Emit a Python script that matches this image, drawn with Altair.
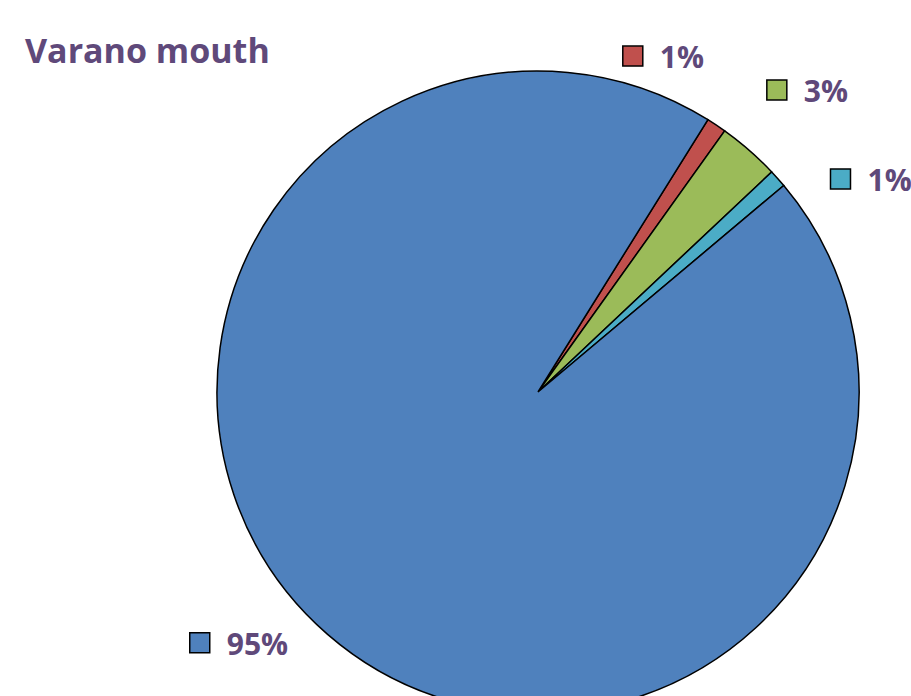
import math
import altair as alt
import pandas as pd

# ---- data ----
categories = ["A", "B", "C", "D"]
values = [1.0, 3.1, 0.9, 95.0]
colors = ["#C0504D", "#9BBB59", "#4BACC6", "#4F81BD"]
title_text = "Varano mouth"

# ---- layout ----
W, H = 911, 696
CX, CY = 538, 392
R = 321
START_DEG = 31.96
TEXT_COLOR = "#5F497A"
FONT = "Open Sans"
# label placement nudges (degrees relative to slice mid-angle, radial distance)
label_nudge_deg = [-18.0, -2.8, 6.5, 12.5]
label_radius = [349, 385, 370, 421]

df = pd.DataFrame({"cat": categories, "value": values, "idx": range(len(values))})
total = sum(values)
cum = 0.0
lx, ly, lab = [], [], []
for i, v in enumerate(values):
    mid = START_DEG + (cum + v / 2) / total * 360.0
    cum += v
    a = math.radians(mid + label_nudge_deg[i])
    lx.append(CX + label_radius[i] * math.sin(a))
    ly.append(CY - label_radius[i] * math.cos(a))
    lab.append(f"{round(v / total * 100):.0f}%")
df["lx"] = lx
df["ly"] = ly
df["label"] = lab

start = math.radians(START_DEG)
color_scale = alt.Scale(domain=categories, range=colors)

pie = alt.Chart(df).mark_arc(outerRadius=R, stroke="black", strokeWidth=1.5).encode(
    theta=alt.Theta("value:Q", stack=True, scale=alt.Scale(range=[start, start + 2 * math.pi])),
    color=alt.Color("cat:N", scale=color_scale, legend=None),
    order=alt.Order("idx:Q"),
    x=alt.value(CX),
    y=alt.value(CY),
)

squares = alt.Chart(df).mark_square(size=400, stroke="black", strokeWidth=1.5, opacity=1).encode(
    x=alt.X("lx:Q", scale=None, axis=None),
    y=alt.Y("ly:Q", scale=None, axis=None),
    color=alt.Color("cat:N", scale=color_scale, legend=None),
)

labels = alt.Chart(df).mark_text(
    align="left", baseline="middle", dx=27, dy=3,
    font=FONT, fontSize=30, fontWeight="bold", color=TEXT_COLOR,
).encode(
    x=alt.X("lx:Q", scale=None, axis=None),
    y=alt.Y("ly:Q", scale=None, axis=None),
    text="label:N",
)

title = alt.Chart(pd.DataFrame({"t": [title_text]})).mark_text(
    align="left", baseline="alphabetic", font=FONT, fontSize=34, fontWeight="bold", color=TEXT_COLOR,
).encode(x=alt.value(25), y=alt.value(63), text="t:N")

chart = alt.layer(pie, squares, labels, title).properties(
    width=W, height=H, autosize=alt.AutoSizeParams(type="none"), padding=0,
    background="white",
).configure_view(stroke=None)

chart.save("out.html", embed_options={"renderer": "svg", "actions": False})
